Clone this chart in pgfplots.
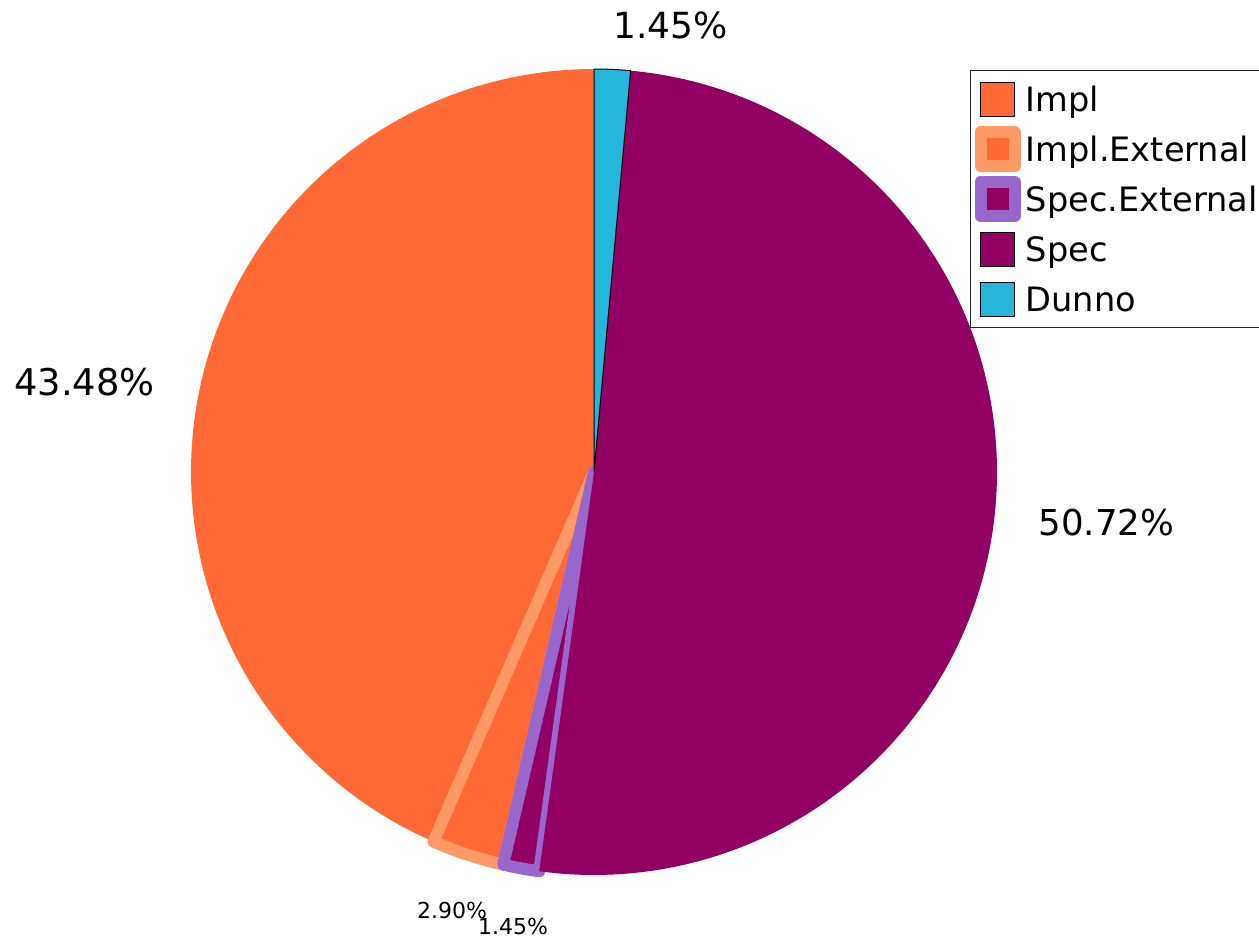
\documentclass[border=0pt]{standalone}
\usepackage{pgfplots}
\usepackage{pgfplotstable}
\pgfplotsset{compat=1.18}
\usepackage{fontspec}
\setmainfont{DejaVu Sans}
\definecolor{implc}{HTML}{FF6935}
\definecolor{implext}{HTML}{FF9966}
\definecolor{specc}{HTML}{930064}
\definecolor{specext}{HTML}{9966CC}
\definecolor{dunnoc}{HTML}{25B7DB}

\pgfplotstableread{
label value
Impl 43.48
Impl.External 2.90
Spec.External 1.45
Spec 50.72
Dunno 1.45
}\piedata

\begin{document}%
\begin{tikzpicture}
\pgfplotstablegetelem{0}{value}\of\piedata \let\vA\pgfplotsretval
\pgfplotstablegetelem{1}{value}\of\piedata \let\vB\pgfplotsretval
\pgfplotstablegetelem{2}{value}\of\piedata \let\vC\pgfplotsretval
\pgfplotstablegetelem{3}{value}\of\piedata \let\vD\pgfplotsretval
\pgfplotstablegetelem{4}{value}\of\piedata \let\vE\pgfplotsretval
\pgfmathsetmacro\aO{90}
\pgfmathsetmacro\aA{\aO+3.6*\vA}
\pgfmathsetmacro\aB{\aA+3.6*\vB}
\pgfmathsetmacro\aC{\aB+3.6*\vC}
\pgfmathsetmacro\aD{\aC+3.6*\vD}
\pgfmathsetmacro\aE{\aD+3.6*\vE}
\begin{axis}[
  scale only axis, width=629.5pt, height=469.5pt,
  xmin=0, xmax=1259, ymin=0, ymax=939,
  hide axis, clip=false,
  legend cell align=left,
  legend image code/.code={\draw[#1] (0pt,-8.5pt) rectangle (17pt,8.5pt);},
  legend style={at={(axis cs:970,869)}, anchor=north west,
    draw=black!85, line width=0.5pt, fill=white,
    inner xsep=2pt, inner ysep=1.8pt,
    row sep=0pt, column sep=2.6pt,
    font=\fontsize{16.8pt}{20pt}\selectfont,
    nodes={inner sep=0pt, text height=12.3pt, text depth=0pt, minimum height=25pt}},
]
\coordinate (bbll) at (axis cs:0,0);
\coordinate (bbur) at (axis cs:1259,939);

\addplot[fill=implc, draw=none, domain=\aO:\aA, samples=150, variable=\t]
  ({594+403*cos(\t)}, {467+403*sin(\t)}) -- (axis cs:594,467) -- cycle;
\addlegendentry{Impl}
\addplot[fill=implc, draw=implext, line width=6pt, line join=round, domain=\aA:\aB, samples=20, variable=\t]
  ({594+403*cos(\t)}, {467+403*sin(\t)}) -- (axis cs:594,467) -- cycle;
\addlegendentry{Impl.External}
\addplot[fill=specc, draw=specext, line width=6pt, line join=round, domain=\aB:\aC, samples=20, variable=\t]
  ({594+403*cos(\t)}, {467+403*sin(\t)}) -- (axis cs:594,467) -- cycle;
\addlegendentry{Spec.External}
\addplot[fill=specc, draw=none, domain=\aC:\aD, samples=180, variable=\t,
  legend image post style={draw=black, line width=0.5pt}]
  ({594+403*cos(\t)}, {467+403*sin(\t)}) -- (axis cs:594,467) -- cycle;
\addlegendentry{Spec}
\addplot[fill=dunnoc, draw=black, line width=0.5pt, line join=round, domain=\aD:\aE, samples=20, variable=\t]
  ({594+403*cos(\t)}, {467+403*sin(\t)}) -- (axis cs:594,467) -- cycle;
\addlegendentry{Dunno}

\node[anchor=west, inner sep=0pt, font=\fontsize{18pt}{21pt}\selectfont] at (axis cs:613,913.5) {\vE\%};
\node[anchor=east, inner sep=0pt, font=\fontsize{18.4pt}{21pt}\selectfont] at (axis cs:155,557) {\vA\%};
\node[anchor=west, inner sep=0pt, font=\fontsize{17.8pt}{21pt}\selectfont] at (axis cs:1038,416) {\vD\%};
\node[anchor=center, inner sep=0pt, font=\fontsize{11pt}{13pt}\selectfont] at (axis cs:452,29) {\vB\%};
\node[anchor=center, inner sep=0pt, font=\fontsize{11pt}{13pt}\selectfont] at (axis cs:513,12.5) {\vC\%};
\end{axis}
\pgfresetboundingbox
\useasboundingbox (bbll) rectangle (bbur);
\end{tikzpicture}%
\end{document}
